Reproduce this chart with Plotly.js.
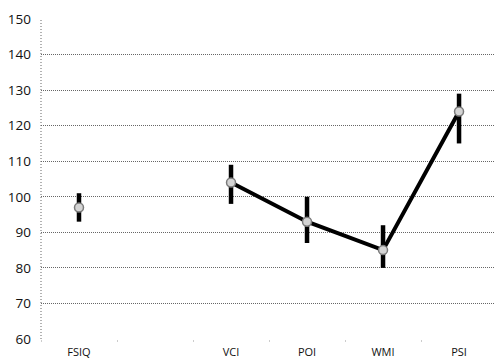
<!DOCTYPE html>
<html><head><meta charset="utf-8">
<script src="https://cdn.plot.ly/plotly-3.0.1.min.js"></script>
<style>html,body{margin:0;padding:0;background:#fff;overflow:hidden}</style>
</head><body><div id="chart" style="width:494px;height:359px"></div>
<script>
var categories = ['FSIQ', ' ', 'VCI', 'POI', 'WMI', 'PSI'];
var fsiqValue = [97];
var fsiqErrPlus = [4];
var fsiqErrMinus = [4];
var indexCategories = ['VCI', 'POI', 'WMI', 'PSI'];
var indexValues = [104, 93, 85, 124];
var indexErrPlus = [5, 7, 7, 5];
var indexErrMinus = [6, 6, 5, 9];
var yTicks = [60, 70, 80, 90, 100, 110, 120, 130, 140, 150];

var markerStyle = {symbol: 'circle', size: 9, color: '#d4d4d4', line: {color: '#7a7a7a', width: 1.5}};
function errY(p, m) { return {type: 'data', symmetric: false, array: p, arrayminus: m, color: '#000', thickness: 4.5, width: 0}; }

var traces = [
  {x: ['FSIQ'], y: fsiqValue, type: 'scatter', mode: 'markers', marker: markerStyle,
   error_y: errY(fsiqErrPlus, fsiqErrMinus), showlegend: false, hoverinfo: 'x+y'},
  {x: indexCategories, y: indexValues, type: 'scatter', mode: 'lines+markers',
   line: {color: '#000', width: 4}, marker: markerStyle,
   error_y: errY(indexErrPlus, indexErrMinus), showlegend: false, hoverinfo: 'x+y'}
];

var layout = {
  width: 494, height: 359,
  margin: {l: 41, r: 0, t: 19, b: 20, pad: 0},
  paper_bgcolor: '#fff', plot_bgcolor: '#fff',
  font: {family: '"Open Sans", Lato, sans-serif', color: '#111'},
  xaxis: {type: 'category', categoryorder: 'array', categoryarray: categories,
    tickvals: categories, ticktext: categories,
    range: [-0.5, 5.46], showgrid: false, zeroline: false, showline: false,
    tickson: 'boundaries', ticks: 'outside', ticklen: 2, tickcolor: '#ccc',
    ticklabelstandoff: 5,
    tickfont: {size: 11, color: '#111'}, fixedrange: true},
  yaxis: {range: [60, 150], tickvals: yTicks, showgrid: true, gridcolor: '#666', griddash: '1px,1px', gridwidth: 1,
    zeroline: false, showline: false, ticks: '', ticklabelstandoff: 9,
    tickfont: {size: 13.5, color: '#111'}, fixedrange: true},
  shapes: [{type: 'line', xref: 'paper', yref: 'paper', x0: 0, x1: 0, y0: 0, y1: 1,
    line: {color: '#666', width: 1, dash: '1px,2px'}}]
};
Plotly.newPlot('chart', traces, layout, {displayModeBar: false, staticPlot: true});
</script></body></html>
